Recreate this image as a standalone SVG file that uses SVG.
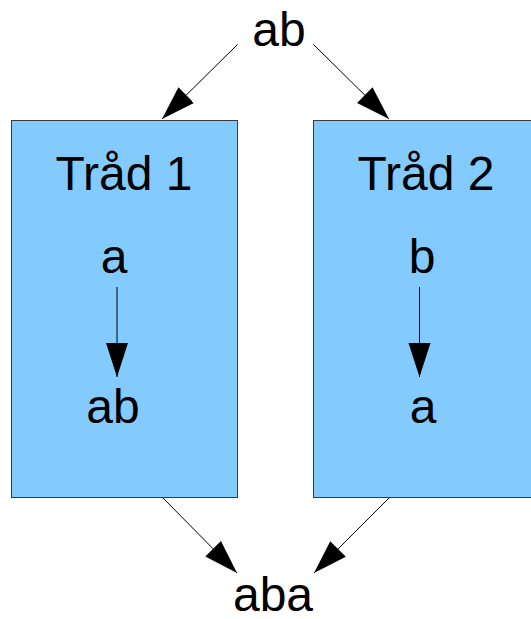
<svg xmlns="http://www.w3.org/2000/svg" width="531" height="619" viewBox="0 0 531 619">
<style>
.box{fill:#83caff;stroke:#3a3a3a;stroke-width:1}
.t{font-family:"Liberation Sans",Arial,sans-serif;font-size:48px;fill:#000;text-anchor:middle}
.c{stroke:#000;stroke-width:1;fill:none}
</style>
<defs>
<marker id="ah" markerUnits="userSpaceOnUse" markerWidth="34" markerHeight="24" refX="34" refY="12" orient="auto">
<path d="M0,1 L34,12 L0,23 Z" fill="#000"/>
</marker>
</defs>
<g id="top"><text class="t" x="279" y="46">ab</text></g>
<g id="thread1">
<rect class="box" x="11.5" y="120.5" width="226" height="377"/>
<text class="t" x="124" y="190">Tråd 1</text>
<text class="t" x="114" y="273">a</text>
<text class="t" x="113" y="423">ab</text>
</g>
<g id="thread2">
<rect class="box" x="313.5" y="120.5" width="226" height="377"/>
<text class="t" x="426" y="190">Tråd 2</text>
<text class="t" x="422" y="273">b</text>
<text class="t" x="423" y="423">a</text>
</g>
<g id="bottom"><text class="t" x="273" y="611">aba</text></g>
<g id="connectors">
<line class="c" x1="237.5" y1="44.5" x2="162" y2="119" marker-end="url(#ah)"/>
<line class="c" x1="313.5" y1="44.5" x2="389" y2="119" marker-end="url(#ah)"/>
<line class="c" x1="117" y1="287" x2="117" y2="377" marker-end="url(#ah)"/>
<line class="c" x1="419.5" y1="287" x2="419.5" y2="377" marker-end="url(#ah)"/>
<line class="c" x1="163" y1="498" x2="237" y2="573" marker-end="url(#ah)"/>
<line class="c" x1="389" y1="498" x2="314" y2="573" marker-end="url(#ah)"/>
</g>
</svg>
